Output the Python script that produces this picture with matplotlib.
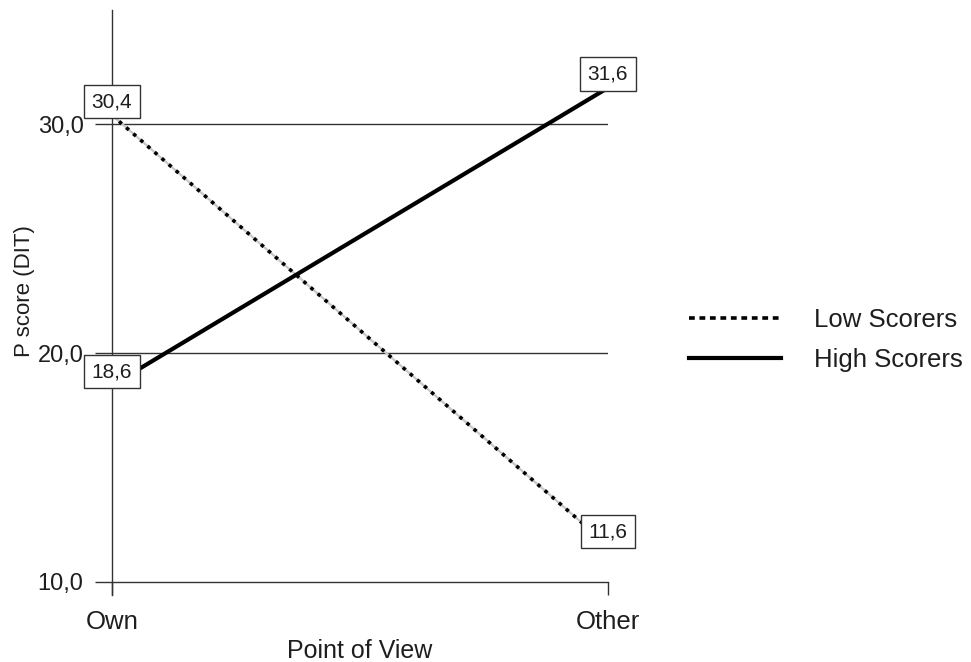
import matplotlib
matplotlib.use("Agg")
import matplotlib.pyplot as plt
from matplotlib.lines import Line2D

plt.rcParams['font.family'] = ['Liberation Sans', 'DejaVu Sans']

categories = ["Own", "Other"]
low_scorers = [30.4, 11.6]
high_scorers = [18.6, 31.6]
low_labels = ["30,4", "11,6"]
high_labels = ["18,6", "31,6"]
yticks = [10, 20, 30]
ytick_labels = ["10,0", "20,0", "30,0"]

W, H = 971, 662
fig = plt.figure(figsize=(W / 100, H / 100), dpi=100)
left, right = 112 / W, 608 / W
bottom, top = 1 - 595 / H, 1 - 10 / H
ax = fig.add_axes([left, bottom, right - left, top - bottom])

x = list(range(len(categories)))
ax.set_xlim(0, 1)
ax.set_ylim(9.43, 35)

ink = "#333333"
txt = "#1e1e1e"
# grid lines
for yv in [20, 30]:
    ax.axhline(yv, color=ink, lw=1.0, zorder=1)

# Low scorers: gray under-line with black dots
ax.plot(x, low_scorers, color="#c8c8c8", lw=1.6, zorder=2)
ax.plot(x, low_scorers, color="black", lw=2.6, linestyle=(0, (1.0, 1.6)), zorder=3)
# High scorers
ax.plot(x, high_scorers, color="black", lw=3.0, solid_capstyle="butt", zorder=3)

box = dict(boxstyle="square,pad=0.35", fc="white", ec=ink, lw=1.0)
for xi, v, t in zip(x, low_scorers, low_labels):
    ax.annotate(t, (xi, v), xytext=(0, 3), textcoords="offset points",
                ha="center", va="bottom", fontsize=15, color=txt,
                bbox=box, zorder=5, annotation_clip=False)
for xi, v, t in zip(x, high_scorers, high_labels):
    ax.annotate(t, (xi, v), xytext=(0, 3), textcoords="offset points",
                ha="center", va="bottom", fontsize=15, color=txt,
                bbox=box, zorder=5, annotation_clip=False)

# spines
for s in ["top", "right"]:
    ax.spines[s].set_visible(False)
ax.spines["left"].set_color(ink)
ax.spines["left"].set_linewidth(1.0)
ax.spines["bottom"].set_position(("data", 10))
ax.spines["bottom"].set_color(ink)
ax.spines["bottom"].set_linewidth(1.0)

ax.set_yticks(yticks)
ax.set_yticklabels(ytick_labels, fontsize=17, color=txt)
ax.set_xticks(x)
ax.set_xticklabels(categories, fontsize=18.5, color=txt)
ax.tick_params(axis="y", length=12.5, width=1.0, color=ink, pad=8)
ax.tick_params(axis="x", length=9, width=1.0, color=ink, pad=11)

ax.set_xlabel("Point of View", fontsize=18, color=txt, labelpad=4)
ax.set_ylabel("P score (DIT)", fontsize=16, color=txt)
ax.yaxis.set_label_coords((35 - 112) / 496, 0.52)

handles = [
    Line2D([], [], color="black", lw=2.6, linestyle=(0, (1.6, 1.3))),
    Line2D([], [], color="black", lw=3.0),
]
fig.legend(handles, ["Low Scorers", "High Scorers"], loc="center left",
           bbox_to_anchor=(666 / W, 1 - 340 / H), frameon=False,
           fontsize=18.5, handlelength=3.58, handletextpad=1.28,
           labelspacing=0.65, labelcolor=txt)

fig.savefig("out.png", dpi=100, facecolor="white")
